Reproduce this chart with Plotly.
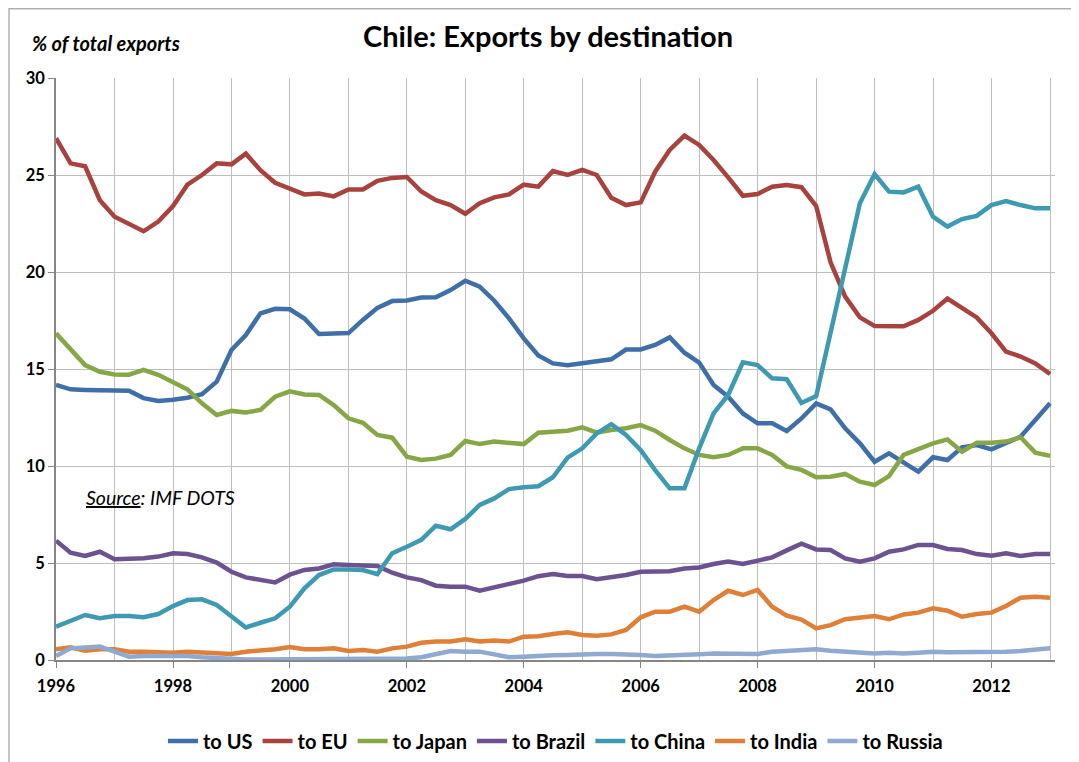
import pandas as pd
import plotly.graph_objects as go

# quarterly observations, 1996Q1 .. 2013Q1
quarters = pd.date_range("1996-01-01", periods=69, freq="QS")

to_us = [14.18, 13.95, 13.92, 13.9, 13.85, 13.88, 13.5, 13.35, 13.42, 13.52, 13.7, 14.35, 15.98, 16.75, 17.87, 18.1,
         18.08, 17.6, 16.8, 16.82, 16.85, 17.53, 18.15, 18.5, 18.53, 18.68, 18.7, 19.07, 19.55, 19.24, 18.52, 17.61, 16.58, 15.7,
         15.29, 15.2, 15.29, 15.38, 15.5, 16.0, 16.01, 16.24, 16.63, 15.84, 15.33, 14.18, 13.57, 12.71, 12.2, 12.2, 11.8, 12.45,
         13.23, 12.92, 11.94, 11.17, 10.22, 10.65, 10.17, 9.71, 10.45, 10.31, 10.96, 11.08, 10.86, 11.17, 11.51, 12.37, 13.23]
to_eu = [26.9, 25.6, 25.45, 23.7, 22.85, 22.5, 22.1, 22.6, 23.4, 24.5, 25.0, 25.6, 25.55, 26.1, 25.25, 24.6,
         24.3, 24.0, 24.05, 23.9, 24.25, 24.25, 24.7, 24.85, 24.9, 24.15, 23.7, 23.45, 23.0, 23.55, 23.85, 24.0, 24.5, 24.4,
         25.2, 25.0, 25.26, 25.0, 23.83, 23.45, 23.59, 25.17, 26.29, 27.03, 26.55, 25.77, 24.88, 23.93, 24.02, 24.4, 24.48, 24.37,
         23.4, 20.5, 18.73, 17.66, 17.22, 17.22, 17.2, 17.53, 18.0, 18.63, 18.18, 17.66, 16.84, 15.9, 15.64, 15.29, 14.74]
to_japan = [16.84, 15.98, 15.2, 14.86, 14.72, 14.71, 14.95, 14.7, 14.35, 13.95, 13.23, 12.63, 12.84, 12.76, 12.89, 13.57,
            13.85, 13.69, 13.66, 13.14, 12.46, 12.23, 11.6, 11.46, 10.48, 10.31, 10.38, 10.57, 11.29, 11.13, 11.26, 11.2, 11.13, 11.72,
            11.77, 11.82, 11.99, 11.72, 11.86, 11.95, 12.11, 11.82, 11.34, 10.91, 10.57, 10.45, 10.57, 10.91, 10.91, 10.57, 9.98, 9.8,
            9.42, 9.45, 9.59, 9.19, 9.02, 9.48, 10.57, 10.86, 11.17, 11.37, 10.74, 11.2, 11.2, 11.26, 11.48, 10.69, 10.52]
to_brazil = [6.15, 5.53, 5.36, 5.58, 5.19, 5.19, 5.24, 5.33, 5.5, 5.46, 5.29, 5.02, 4.55, 4.26, 4.12, 4.0,
             4.4, 4.64, 4.72, 4.93, 4.9, 4.9, 4.85, 4.5, 4.26, 4.12, 3.83, 3.78, 3.78, 3.57, 3.74, 3.92, 4.09, 4.32,
             4.43, 4.33, 4.33, 4.16, 4.26, 4.38, 4.55, 4.55, 4.58, 4.72, 4.77, 4.95, 5.07, 4.95, 5.12, 5.29, 5.65, 6.0,
             5.7, 5.67, 5.24, 5.07, 5.24, 5.58, 5.7, 5.93, 5.93, 5.72, 5.67, 5.46, 5.38, 5.5, 5.36, 5.46, 5.46]
to_china = [1.72, 2.03, 2.32, 2.15, 2.27, 2.27, 2.2, 2.37, 2.78, 3.09, 3.13, 2.84, 2.23, 1.68, 1.92, 2.15,
            2.75, 3.69, 4.38, 4.67, 4.67, 4.64, 4.43, 5.5, 5.84, 6.19, 6.92, 6.74, 7.27, 7.99, 8.33, 8.81, 8.9, 8.96,
            9.42, 10.43, 10.91, 11.68, 12.15, 11.6, 10.82, 9.79, 8.85, 8.85, 10.91, 12.71, 13.66, 15.35, 15.2, 14.52, 14.47, 13.25,
            13.6, 16.9, 20.2, 23.54, 25.05, 24.14, 24.1, 24.4, 22.85, 22.34, 22.73, 22.89, 23.45, 23.66, 23.45, 23.28, 23.28]
to_india = [0.55, 0.65, 0.48, 0.55, 0.55, 0.43, 0.43, 0.38, 0.38, 0.43, 0.38, 0.31, 0.31, 0.43, 0.48, 0.55,
            0.67, 0.55, 0.55, 0.6, 0.46, 0.52, 0.43, 0.6, 0.69, 0.89, 0.95, 0.95, 1.07, 0.95, 1.0, 0.95, 1.2, 1.22,
            1.34, 1.43, 1.29, 1.25, 1.32, 1.55, 2.2, 2.49, 2.49, 2.75, 2.49, 3.09, 3.57, 3.35, 3.61, 2.75, 2.28, 2.08,
            1.63, 1.8, 2.1, 2.2, 2.27, 2.1, 2.35, 2.44, 2.66, 2.54, 2.23, 2.37, 2.44, 2.78, 3.21, 3.26, 3.21]
to_russia = [0.21, 0.6, 0.65, 0.69, 0.43, 0.17, 0.21, 0.21, 0.21, 0.21, 0.14, 0.09, 0.09, 0.03, 0.03, 0.03,
             0.03, 0.04, 0.05, 0.05, 0.06, 0.06, 0.06, 0.07, 0.08, 0.14, 0.29, 0.46, 0.43, 0.43, 0.29, 0.14, 0.17, 0.22,
             0.24, 0.26, 0.31, 0.31, 0.31, 0.31, 0.26, 0.21, 0.22, 0.26, 0.29, 0.34, 0.34, 0.31, 0.31, 0.43, 0.46, 0.5,
             0.55, 0.48, 0.43, 0.34, 0.34, 0.38, 0.34, 0.38, 0.43, 0.4, 0.4, 0.4, 0.4, 0.43, 0.46, 0.52, 0.6]

series = [
    ("to US", to_us, "#3f6fa9"),
    ("to EU", to_eu, "#a8423e"),
    ("to Japan", to_japan, "#87a746"),
    ("to Brazil", to_brazil, "#6c5290"),
    ("to China", to_china, "#3e9ab2"),
    ("to India", to_india, "#e07f37"),
    ("to Russia", to_russia, "#8fa9d0"),
]

FONT = "Lato"

fig = go.Figure()
for name, vals, color in series:
    fig.add_trace(go.Scatter(x=quarters, y=vals, name=name, mode="lines",
                             line=dict(color=color, width=4.5)))

# the page body adds an 8px offset, so the figure is laid out 8px up/left
fig.update_layout(
    width=1079, height=762,
    paper_bgcolor="white", plot_bgcolor="white",
    margin=dict(l=48, r=32, t=70, b=110),
    font=dict(family=FONT, color="black"),
    title=dict(text="<b>Chile: Exports by destination</b>", font=dict(size=29),
               x=0.5005, xref="container", xanchor="center",
               y=1 - 29 / 762, yref="container", yanchor="middle"),
    legend=dict(orientation="h", x=0.5, xanchor="center",
                y=1 - 733 / 762, yref="container", yanchor="middle",
                font=dict(size=20, weight="bold"), itemwidth=30, tracegroupgap=0),
    showlegend=True,
)

fig.update_xaxes(
    range=["1996-01-01", "2013-02-01"], automargin=False,
    dtick="M24", tick0="1996-01-01", tickformat="%Y",
    ticks="outside", ticklen=6, tickcolor="#868686", ticklabelstandoff=4,
    tickfont=dict(size=16.5, weight="bold"),
    showline=True, linecolor="#868686", linewidth=1.5,
    showgrid=True, gridcolor="#bfbfbf", gridwidth=1.3,
    minor=dict(dtick="M12", showgrid=True, gridcolor="#bfbfbf", gridwidth=1.3),
    zeroline=False,
)
fig.update_yaxes(
    range=[0, 30], dtick=5, automargin=False,
    ticks="outside", ticklen=6, tickcolor="#868686",
    tickfont=dict(size=16.5, weight="bold"),
    showline=True, linecolor="#868686", linewidth=1.5,
    showgrid=True, gridcolor="#bfbfbf", gridwidth=1.3,
    zeroline=False,
)

fig.add_annotation(text="<b><i>% of total exports</i></b>", xref="paper", yref="paper",
                   x=-0.0257, y=1.06, xanchor="left", yanchor="middle",
                   showarrow=False, font=dict(size=20))
fig.add_annotation(text="<i><u>Source</u>: IMF DOTS</i>", xref="paper", yref="paper",
                   x=0.0283, y=0.28, xanchor="left", yanchor="middle",
                   showarrow=False, font=dict(size=19.5))

# thin outer frame of the chart
fig.add_shape(type="rect", xref="paper", yref="paper",
              x0=-0.047, x1=1.1, y0=-0.3, y1=1.119,
              line=dict(color="#b0b0b0", width=1.5), layer="below")

fig.write_html("out.html")
